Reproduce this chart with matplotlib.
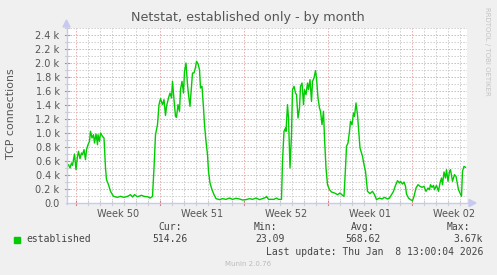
import datetime as dt
import matplotlib
matplotlib.use("Agg")
import matplotlib.pyplot as plt
import matplotlib.dates as mdates
from matplotlib.lines import Line2D
from matplotlib.patches import Polygon, Rectangle

# ---------------- data ----------------
title = "Netstat, established only - by month"
ylabel = "TCP connections"
series_name = "established"
last_update = "Last update: Thu Jan  8 13:00:04 2026"
footer = "Munin 2.0.76"
side_text = "RRDTOOL / TOBI OETIKER"
graph_end = dt.datetime(2026, 1, 8, 13, 0)
span_hours = 800

# hours after the left edge of the graph
hours = [0, 4, 7, 10, 12, 16, 19, 22, 24, 27, 30, 32, 35, 38, 40, 43, 46, 48, 51, 54,
         56, 59, 62, 63, 66, 68, 72, 75, 78, 80, 84, 88, 94, 102, 108, 115, 122, 128,
         132, 136, 142, 150, 155, 162, 167, 172, 175, 178, 182, 185, 188, 192, 195,
         198, 200, 204, 207, 210, 212, 215, 218, 220, 223, 226, 228, 231, 234, 236,
         239, 242, 244, 247, 250, 252, 255, 258, 260, 263, 266, 268, 271, 274, 276,
         279, 282, 284, 287, 291, 295, 299, 306, 312, 319, 326, 332, 339, 346, 352,
         359, 366, 372, 379, 386, 392, 399, 400, 404, 415, 420, 424, 430, 432, 435, 438,
         439, 442, 444, 447, 450, 452, 455, 458, 460, 463, 466, 468, 471, 474, 476,
         479, 482, 484, 487, 490, 492, 495, 498, 500, 503, 506, 508, 511, 514, 516,
         519, 522, 526, 530, 536, 542, 547, 552, 555, 558, 560, 563, 566, 568, 571,
         574, 576, 579, 582, 584, 587, 590, 592, 595, 598, 602, 607, 612, 616, 620,
         626, 631, 636, 642, 646, 650, 654, 658, 662, 666, 668, 672, 675, 678, 680,
         684, 688, 692, 695, 699, 703, 707, 711, 715, 719, 723, 726, 728, 731, 734,
         736, 740, 744, 747, 750, 752, 755, 758, 760, 763, 766, 768, 772, 776, 779,
         782, 784, 787, 790, 792, 795, 798]
values = [510, 548, 500, 571, 538, 700, 476, 667, 738, 633, 714, 690, 762, 619, 762, 833,
          881, 1024, 929, 976, 857, 986, 833, 976, 881, 1000, 952, 929, 500, 333, 262,
          167, 95, 81, 95, 81, 95, 119, 86, 119, 90, 110, 95, 90, 71, 95, 500, 976, 1119,
          1405, 1490, 1405, 1476, 1250, 1381, 1500, 1571, 1500, 1738, 1476, 1238, 1224,
          1405, 1310, 1619, 1738, 1571, 1881, 2000, 1690, 1548, 1381, 1667, 1857, 1857,
          1938, 2024, 1990, 1905, 1643, 1667, 1357, 1119, 881, 690, 452, 286, 190, 119,
          62, 48, 62, 52, 71, 52, 67, 57, 43, 48, 62, 52, 71, 48, 62, 81, 95, 52, 52, 71,
          52, 52, 595, 1024, 1071, 1024, 1405, 1214, 500, 976, 1619, 1667, 1571, 1548,
          1214, 1357, 1667, 1714, 1405, 1619, 1548, 1714, 1619, 1762, 1452, 1738, 1786,
          1890, 1786, 1500, 1357, 1310, 1119, 1310, 929, 500, 262, 190, 157, 143, 119,
          143, 110, 95, 500, 810, 857, 1024, 1167, 1119, 1286, 1238, 1429, 1262, 1071,
          786, 714, 667, 548, 452, 167, 133, 167, 119, 48, 71, 57, 81, 57, 71, 119, 167,
          252, 319, 286, 310, 271, 300, 238, 129, 71, 48, 33, 95, 214, 262, 238, 224,
          238, 167, 214, 190, 262, 224, 252, 190, 252, 167, 286, 357, 262, 443, 357, 476,
          310, 452, 476, 310, 405, 381, 262, 190, 143, 95, 452, 524, 510]

stat_labels = ["Cur:", "Min:", "Avg:", "Max:"]
stat_values = ["514.26", "23.09", "568.62", "3.67k"]
y_ticks = [0, 200, 400, 600, 800, 1000, 1200, 1400, 1600, 1800, 2000, 2200, 2400]
y_max = 2500

# ---------------- styling ----------------
W, H = 497, 275
BG = "#F0F0F0"
TXT = "#555555"
GREEN = "#00CC00"
MINOR = "#CDCDCD"
MAJOR = "#E6ACAC"
AXIS = "#C8C8F0"

def fx(x):
    return x / W

def fy(y):
    return 1 - y / H

L, R, T, B = 66.5, 466.5, 28, 203

fig = plt.figure(figsize=(W / 100, H / 100), dpi=100, facecolor=BG)
ax = fig.add_axes([fx(L), fy(B), fx(R) - fx(L), fy(T) - fy(B)])
ax.set_facecolor("white")
for s in ax.spines.values():
    s.set_visible(False)

start = graph_end - dt.timedelta(hours=span_hours)
times = [start + dt.timedelta(hours=h) for h in hours]
ax.set_xlim(mdates.date2num(start), mdates.date2num(graph_end))
ax.set_ylim(0, y_max)

dash = (0, (1.4, 1.6))
gkw = dict(lw=0.72, ls=dash)
# horizontal grid
for v in range(100, y_max + 1, 100):
    if v % 200:
        ax.axhline(v, color=MINOR, zorder=1, **gkw)
for v in y_ticks[1:]:
    ax.axhline(v, color=MAJOR, zorder=2, **gkw)

# vertical grid: days and weeks (weeks start on Sunday)
day = dt.datetime(start.year, start.month, start.day) + dt.timedelta(days=1)
days, sundays = [], []
while day < graph_end:
    (sundays if day.weekday() == 6 else days).append(day)
    day += dt.timedelta(days=1)
for d in days:
    ax.axvline(mdates.date2num(d), color=MINOR, zorder=1, **gkw)
for d in sundays:
    ax.axvline(mdates.date2num(d), color=MAJOR, zorder=2, **gkw)

ax.plot(mdates.date2num(times), values, color=GREEN, lw=1.0, zorder=5,
        solid_joinstyle="round")

# tick labels
mids = [s + dt.timedelta(days=3.5) for s in sundays]
ax.set_xticks([mdates.date2num(m) for m in mids])
ax.set_xticklabels(["Week %s" % m.strftime("%V") for m in mids])
ax.set_yticks(y_ticks)
ax.set_yticklabels(["0.0" if v == 0 else "%.1f k" % (v / 1000) for v in y_ticks])
ax.tick_params(axis="both", length=0, colors=TXT, labelsize=7)
ax.tick_params(axis="x", pad=4.5)
ax.tick_params(axis="y", pad=5)

# small tick marks on axes
xt = ax.get_xaxis_transform()
for d in days:
    ax.add_line(Line2D([mdates.date2num(d)] * 2, [-0.012, 0.012], transform=xt,
                       color=MINOR, lw=0.8, clip_on=False, zorder=6))
for d in sundays:
    ax.add_line(Line2D([mdates.date2num(d)] * 2, [-0.012, 0.012], transform=xt,
                       color="#D08080", lw=0.8, clip_on=False, zorder=6))
yt = ax.get_yaxis_transform()
for v in range(100, y_max + 1, 100):
    ax.add_line(Line2D([-0.005, 0.005], [v, v], transform=yt,
                       color=MINOR if v % 200 else "#D08080", lw=0.8,
                       clip_on=False, zorder=6))

# axes lines with arrows
fig.add_artist(Line2D([fx(L), fx(L)], [fy(B + 1), fy(24)], color=AXIS, lw=1.0))
fig.add_artist(Line2D([fx(L - 1), fx(471)], [fy(B), fy(B)], color=AXIS, lw=1.0))
fig.add_artist(Polygon([[fx(L - 3.5), fy(27)], [fx(L + 3.5), fy(27)], [fx(L), fy(20)]],
                       closed=True, color=AXIS, transform=fig.transFigure))
fig.add_artist(Polygon([[fx(469), fy(B - 3.5)], [fx(469), fy(B + 3.5)], [fx(476), fy(B)]],
                       closed=True, color=AXIS, transform=fig.transFigure))

# texts
fig.text(fx(248), fy(18), title, ha="center", va="center", fontsize=9.2, color=TXT)
fig.text(fx(11), fy(114), ylabel, ha="center", va="center", rotation=90,
         fontsize=7.9, color=TXT)
fig.text(fx(487), fy(7), side_text, ha="center", va="top", rotation=270,
         fontsize=5, color="#C4C4C4")

mono = "DejaVu Sans Mono"
fig.add_artist(Rectangle((fx(14), fy(242.5)), 6 / W, 6 / H, color=GREEN,
                         transform=fig.transFigure))
fig.text(fx(26), fy(239.5), series_name, ha="left", va="center", fontsize=7,
         family=mono, color="#444444")
lab_x = [158, 254, 350.5, 446.5]
val_right = [188, 284.5, 380.5, 483]
for lx, vr, lab, val in zip(lab_x, val_right, stat_labels, stat_values):
    fig.text(fx(lx), fy(227.5), lab, ha="left", va="center", fontsize=7,
             family=mono, color="#444444")
    fig.text(fx(vr), fy(239.5), val, ha="right", va="center", fontsize=7,
             family=mono, color="#444444")
fig.text(fx(483), fy(252), last_update, ha="right", va="center", fontsize=7,
         family=mono, color="#444444")
fig.text(fx(248), fy(264), footer, ha="center", va="center", fontsize=5,
         color="#BBBBBB")

fig.savefig("out.png", dpi=100, facecolor=BG)
